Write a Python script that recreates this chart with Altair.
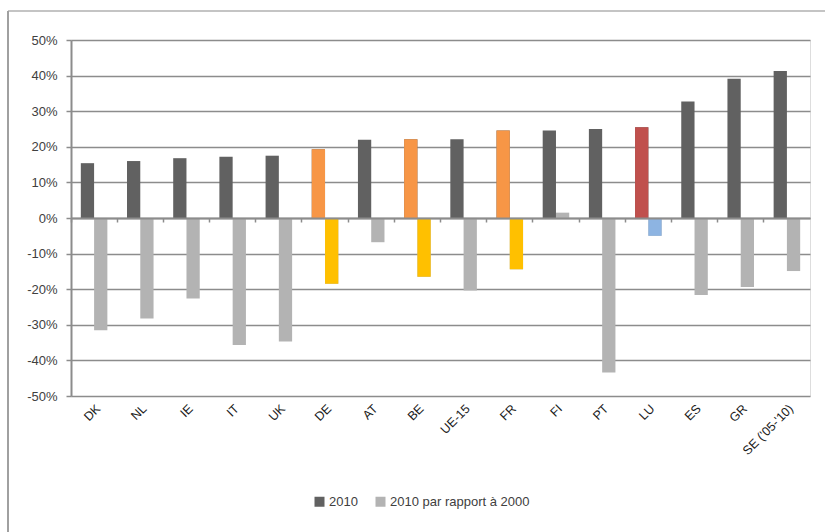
import altair as alt
import pandas as pd

# Countries in display order
pays = ["DK", "NL", "IE", "IT", "UK", "DE", "AT", "BE", "UE-15", "FR",
        "FI", "PT", "LU", "ES", "GR", "SE ('05-'10)"]

# Series names
series = ["2010", "2010 par rapport à 2000"]

# Values in percent
v2010 = [15.4, 16.0, 16.8, 17.2, 17.5, 19.3, 22.0, 22.1, 22.1, 24.6,
         24.6, 25.0, 25.5, 32.7, 39.1, 41.3]
v_evol = [-31.5, -28.2, -22.6, -35.7, -34.7, -18.5, -6.8, -16.5, -20.4, -14.4,
          1.5, -43.4, -5.0, -21.6, -19.4, -14.9]

# Y-axis tick values (fractions)
y_ticks = [-0.5, -0.4, -0.3, -0.2, -0.1, 0.0, 0.1, 0.2, 0.3, 0.4, 0.5]

# Highlighted countries: (colour for 2010, colour for the change)
accents = {
    "DE": ("#F79646", "#FFC000"),
    "BE": ("#F79646", "#FFC000"),
    "FR": ("#F79646", "#FFC000"),
    "LU": ("#C0504D", "#8DB4E2"),
}

rows = []
for i, p in enumerate(pays):
    for j, (s, vals) in enumerate(zip(series, [v2010, v_evol])):
        rows.append({
            "pays": p,
            "serie": s,
            "valeur": vals[i] / 100,
            "teinte": accents[p][j] if p in accents else None,
        })
df = pd.DataFrame(rows)

W, H = 739, 356
AXIS_GREY = "#8c8c8c"
FONT = "Liberation Sans"

y_axis = alt.Axis(
    values=y_ticks,
    tickCount=len(y_ticks),
    labelExpr="round(datum.value * 100) + '%'",
    labelOverlap=False,
    title=None,
    grid=True, gridColor=AXIS_GREY, gridWidth=1.5,
    domain=True, domainColor=AXIS_GREY, domainWidth=2,
    ticks=True, tickColor=AXIS_GREY, tickSize=5, tickWidth=1.5,
    labelFont=FONT, labelFontSize=13, labelColor="#404040",
    labelPadding=9,
)
y_scale = alt.Scale(domain=[-0.5, 0.5], nice=False, zero=False)

x_scale = alt.Scale(paddingInner=0, paddingOuter=0)
xoff = alt.XOffset("serie:N", sort=series,
                   scale=alt.Scale(paddingInner=0, paddingOuter=0.74))

# Base bars: grey series colours, carry the legend and the country labels
bars = alt.Chart(df).mark_bar().encode(
    x=alt.X("pays:N", sort=pays, scale=x_scale,
            axis=alt.Axis(orient="bottom", title=None, labelAngle=-45,
                          labelOverlap=False,
                          domain=False, ticks=False, labelFont=FONT,
                          labelFontSize=12.5, labelColor="#1a1a1a",
                          labelPadding=6)),
    xOffset=xoff,
    y=alt.Y("valeur:Q", scale=y_scale, axis=y_axis),
    color=alt.Color(
        "serie:N", sort=series,
        scale=alt.Scale(domain=series, range=["#616161", "#b3b3b3"]),
        legend=alt.Legend(
            orient="none", legendX=242, legendY=455, direction="horizontal",
            title=None, symbolType="square", symbolSize=100,
            symbolStrokeWidth=0, labelFont=FONT, labelFontSize=13,
            labelColor="#404040", columnPadding=16, labelOffset=3,
            labelLimit=300,
        ),
    ),
)

# Highlighted countries drawn on top with their own colours;
# this layer also carries the zero-line axis with category ticks
hi = alt.Chart(df).transform_filter("datum.teinte != null").mark_bar().encode(
    x=alt.X("pays:N", sort=pays, scale=x_scale,
            axis=alt.Axis(orient="bottom", title=None, labels=False,
                          offset=-H / 2, domain=True, domainColor=AXIS_GREY,
                          domainWidth=2, ticks=True, tickColor=AXIS_GREY,
                          tickSize=4, tickWidth=1.5, bandPosition=0,
                          zindex=1)),
    xOffset=xoff,
    y=alt.Y("valeur:Q", scale=y_scale, axis=y_axis),
    fill=alt.Fill("teinte:N", scale=None),
)

# Outer frame of the figure
frame_src = alt.Chart(pd.DataFrame({"k": [0]}))
frame_top = frame_src.mark_rule(color="#b0b0b0", strokeWidth=1.5).encode(
    x=alt.value(-63), x2=alt.value(760), y=alt.value(-29))
frame_left = frame_src.mark_rule(color="#a0a0a0", strokeWidth=2).encode(
    x=alt.value(-63), y=alt.value(-29), y2=alt.value(495))

chart = alt.layer(bars, hi, frame_top, frame_left).resolve_axis(
    x="independent"
).properties(
    width=W, height=H,
    autosize=alt.AutoSizeParams(type="none"),
    padding={"left": 71, "top": 40, "right": 15, "bottom": 136},
).configure_view(stroke=None).configure(background="white")

chart.save("out.html", embed_options={"renderer": "svg", "actions": False})
